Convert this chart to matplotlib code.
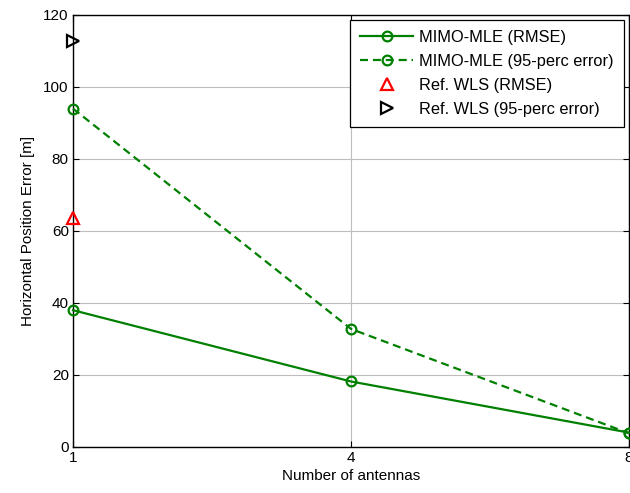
import matplotlib
matplotlib.use("Agg")
import matplotlib.pyplot as plt

plt.rcParams['font.family'] = ['Liberation Sans', 'DejaVu Sans']

antennas = [1, 4, 8]
mle_rmse = [38.0, 18.2, 4.0]
mle_p95 = [94.0, 32.8, 3.8]
wls_rmse = [63.5]
wls_p95 = [112.8]

green = '#008000'
xpos = list(range(len(antennas)))

fig = plt.figure(figsize=(6.30, 4.93), dpi=100)
ax = fig.add_axes([73 / 630, 46 / 493, 556 / 630, 432 / 493])

ax.plot(xpos, mle_rmse, '-', color=green, lw=1.6, marker='o', ms=7,
        mfc='none', mew=1.6, label='MIMO-MLE (RMSE)', clip_on=False, zorder=3)
ax.plot(xpos, mle_p95, '--', color=green, lw=1.6, marker='o', ms=7,
        mfc='none', mew=1.6, dashes=(3.6, 2.2),
        label='MIMO-MLE (95-perc error)', clip_on=False, zorder=3)
ax.plot(xpos[:1], wls_rmse, ls='none', marker='^', color='red', ms=9,
        mfc='none', mew=1.6, label='Ref. WLS (RMSE)', clip_on=False, zorder=3)
ax.plot(xpos[:1], wls_p95, ls='none', marker='>', color='black', ms=9,
        mfc='none', mew=1.6, label='Ref. WLS (95-perc error)', clip_on=False, zorder=3)

ax.set_xlim(0, len(antennas) - 1)
ax.set_ylim(0, 120)
ax.set_xticks(xpos)
ax.set_xticklabels([str(a) for a in antennas])
ax.set_yticks(range(0, 121, 20))
ax.tick_params(direction='in', length=4, width=0.8, labelsize=11,
               top=True, right=True, pad=3)
ax.grid(True, color='#bdbdbd', linestyle='-', linewidth=0.8)
ax.set_axisbelow(True)
for s in ax.spines.values():
    s.set_linewidth(1.0)

ax.set_xlabel('Number of antennas', fontsize=11, labelpad=3)
ax.set_ylabel('Horizontal Position Error [m]', fontsize=11, labelpad=6)

leg = ax.legend(loc='upper right', fontsize=11.8, frameon=True, fancybox=False,
                edgecolor='black', framealpha=1, borderaxespad=0.3,
                handlelength=3.2, labelspacing=0.55, borderpad=0.62,
                handletextpad=0.4)
leg.get_frame().set_linewidth(0.9)

fig.savefig('out.png', dpi=100)
